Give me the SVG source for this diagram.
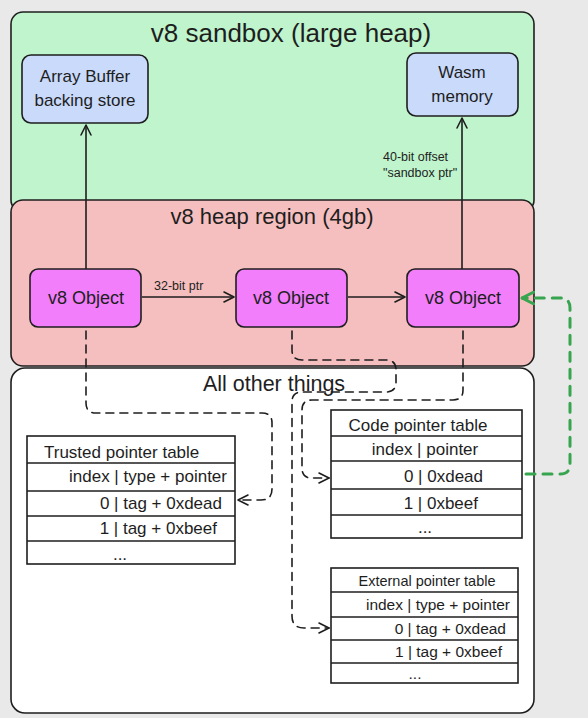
<svg xmlns="http://www.w3.org/2000/svg" width="588" height="718" viewBox="0 0 588 718">
<defs>
<style>
text{font-family:"Liberation Sans",Arial,sans-serif;fill:#1e1e1e}
.reg{stroke:#1e1e1e;stroke-width:1.6}
.box{stroke:#1e1e1e;stroke-width:1.6}
.tbl{fill:#ffffff;stroke:#1e1e1e;stroke-width:1.6}
.row{stroke:#1e1e1e;stroke-width:1.6}
.t{font-size:17px}
.x{font-size:15.5px}
.c{text-anchor:middle}
.e{text-anchor:end}
.solid{fill:none;stroke:#1e1e1e;stroke-width:1.6}
.dash{fill:none;stroke:#1e1e1e;stroke-width:1.6;stroke-dasharray:8 6;stroke-linecap:round}
.green{fill:none;stroke:#37a54f;stroke-width:3;stroke-dasharray:9 8;stroke-linecap:round}
</style>
<marker id="ah" viewBox="0 0 12 12" refX="11" refY="6" markerWidth="12" markerHeight="12" markerUnits="userSpaceOnUse" orient="auto">
<path d="M1,1 L11,6 L1,11" fill="none" stroke="#1e1e1e" stroke-width="1.6" stroke-linecap="round" stroke-linejoin="round"/>
</marker>
<marker id="ahg" viewBox="0 0 14 14" refX="13" refY="7" markerWidth="14" markerHeight="14" markerUnits="userSpaceOnUse" orient="auto">
<path d="M1,1 L13,7 L1,13" fill="none" stroke="#37a54f" stroke-width="3" stroke-linecap="round" stroke-linejoin="round"/>
</marker>
</defs>
<rect x="0" y="0" width="588" height="718" fill="#e9e9e9"/>

<g id="sandbox">
<rect class="reg" x="11" y="12" width="523" height="200" rx="12" fill="#bff4cc"/>
<text x="291" y="42" class="c" font-size="26">v8 sandbox (large heap)</text>
</g>

<g id="heap-region">
<rect class="reg" x="11" y="200" width="523" height="166" rx="12" fill="#f6bfbf"/>
<text x="272" y="224" class="c" font-size="22">v8 heap region (4gb)</text>
</g>

<g id="other-things">
<rect class="reg" x="11" y="368" width="523" height="345" rx="14" fill="#ffffff"/>
<text x="274" y="391" class="c" font-size="21.5">All other things</text>
</g>

<g id="array-buffer">
<rect class="box" x="22" y="55" width="126" height="68" rx="9" fill="#c9dafb"/>
<text x="85" y="82" class="c" font-size="17">Array Buffer</text>
<text x="85" y="106" class="c" font-size="17">backing store</text>
</g>

<g id="wasm-memory">
<rect class="box" x="407" y="53" width="111" height="63" rx="9" fill="#c9dafb"/>
<text x="462" y="78" class="c" font-size="17">Wasm</text>
<text x="462" y="102" class="c" font-size="17">memory</text>
</g>

<g id="v8-object-1">
<rect class="box" x="30" y="269" width="111" height="58" rx="8" fill="#f27efc"/>
<text x="86" y="304" class="c" font-size="18">v8 Object</text>
</g>
<g id="v8-object-2">
<rect class="box" x="236" y="269" width="111" height="58" rx="8" fill="#f27efc"/>
<text x="291" y="304" class="c" font-size="18">v8 Object</text>
</g>
<g id="v8-object-3">
<rect class="box" x="407" y="269" width="112" height="58" rx="8" fill="#f27efc"/>
<text x="463" y="304" class="c" font-size="18">v8 Object</text>
</g>

<g id="trusted-pointer-table">
<rect class="tbl" x="27" y="436" width="208" height="128"/>
<line class="row" x1="27" y1="463" x2="235" y2="463"/>
<line class="row" x1="27" y1="491" x2="235" y2="491"/>
<line class="row" x1="27" y1="516" x2="235" y2="516"/>
<line class="row" x1="27" y1="541" x2="235" y2="541"/>
<text x="44" y="458" class="t">Trusted pointer table</text>
<text x="227" y="482" class="t e">index | type + pointer</text>
<text x="222" y="509" class="t e">0 | tag + 0xdead</text>
<text x="217" y="534" class="t e">1 | tag + 0xbeef</text>
<text x="120" y="560" class="t c">...</text>
</g>

<g id="code-pointer-table">
<rect class="tbl" x="331" y="410" width="191" height="128"/>
<line class="row" x1="331" y1="436" x2="522" y2="436"/>
<line class="row" x1="331" y1="461" x2="522" y2="461"/>
<line class="row" x1="331" y1="489" x2="522" y2="489"/>
<line class="row" x1="331" y1="515" x2="522" y2="515"/>
<text x="418" y="431" class="t c">Code pointer table</text>
<text x="425" y="455" class="t c">index | pointer</text>
<text x="483" y="482" class="t e">0 | 0xdead</text>
<text x="478" y="509" class="t e">1 | 0xbeef</text>
<text x="425" y="533" class="t c">...</text>
</g>

<g id="external-pointer-table">
<rect class="tbl" x="331" y="568" width="187" height="115"/>
<line class="row" x1="331" y1="592" x2="518" y2="592"/>
<line class="row" x1="331" y1="617" x2="518" y2="617"/>
<line class="row" x1="331" y1="640" x2="518" y2="640"/>
<line class="row" x1="331" y1="663" x2="518" y2="663"/>
<text x="427" y="586" class="c" font-size="14.5">External pointer table</text>
<text x="510" y="610" class="x e">index | type + pointer</text>
<text x="506" y="634" class="x e">0 | tag + 0xdead</text>
<text x="502" y="657" class="x e">1 | tag + 0xbeef</text>
<text x="415" y="679" class="x c">...</text>
</g>

<g id="connectors">
<line class="solid" x1="86" y1="269" x2="86" y2="125" marker-end="url(#ah)"/>
<line class="solid" x1="462" y1="269" x2="462" y2="118" marker-end="url(#ah)"/>
<line class="solid" x1="142" y1="297" x2="234" y2="297" marker-end="url(#ah)"/>
<line class="solid" x1="348" y1="297" x2="405" y2="297" marker-end="url(#ah)"/>
<text x="154" y="290" font-size="12.5">32-bit ptr</text>
<text x="383" y="161" font-size="12.5">40-bit offset</text>
<text x="383" y="177" font-size="12.5">"sandbox ptr"</text>
<path class="dash" d="M86 331 L86 403 Q86 413 96 413 L262 413 Q272 413 272 423 L272 489 Q272 500 261 500 L238 500" marker-end="url(#ah)"/>
<path class="dash" d="M292 331 L292 350 Q292 360 302 360 L386 360 Q396 360 396 370 L396 382 Q396 392 386 392 L302 392 Q292 392 292 402 L292 616 Q292 628 304 628 L329 628" marker-end="url(#ah)"/>
<path class="dash" d="M463 331 L463 390 Q463 400 453 400 L312 400 Q302 400 302 410 L302 468 Q302 478 312 478 L329 478" marker-end="url(#ah)"/>
<path class="green" d="M526 474 L560 474 Q570 474 570 464 L570 308 Q570 298 560 298 L522 298" marker-end="url(#ahg)"/>
</g>
</svg>
